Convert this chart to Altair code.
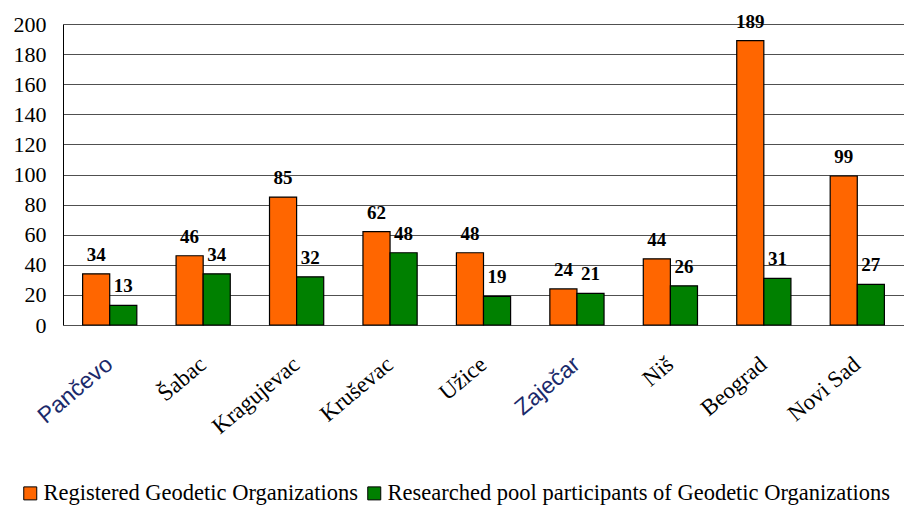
import altair as alt
import pandas as pd

cities = ["Pančevo", "Šabac", "Kragujevac", "Kruševac", "Užice", "Zaječar", "Niš", "Beograd", "Novi Sad"]
registered = [34, 46, 85, 62, 48, 24, 44, 189, 99]
researched = [13, 34, 32, 48, 19, 21, 26, 31, 27]
series = ["Registered Geodetic Organizations", "Researched pool participants of Geodetic Organizations"]
colors = ["#FF6600", "#008000"]
y_ticks = list(range(0, 201, 20))

rows = []
for c, r, s in zip(cities, registered, researched):
    rows.append({"city": c, "series": series[0], "value": r})
    rows.append({"city": c, "series": series[1], "value": s})
df = pd.DataFrame(rows)

serif = "Liberation Serif"
sans = "Liberation Sans"
special = "indexof(['Pančevo','Zaječar'], datum.value) >= 0"

x_enc = alt.X(
    "city:N",
    sort=cities,
    title=None,
    scale=alt.Scale(paddingInner=0.42, paddingOuter=0.21),
    axis=alt.Axis(
        labelAngle=-40,
        labelAlign="right",
        labelBaseline="middle",
        labelFont={"condition": {"test": special, "value": sans}, "value": serif},
        labelColor={"condition": {"test": special, "value": "#1b2a6b"}, "value": "black"},
        labelFontSize=23,
        labelPadding=36,
        ticks=False,
        domain=False,
    ),
)
y_enc = alt.Y(
    "value:Q",
    title=None,
    scale=alt.Scale(domain=[0, 200], nice=False),
    axis=alt.Axis(
        values=y_ticks,
        labelFont=serif,
        labelFontSize=22,
        labelPadding=17,
        ticks=False,
        domain=True,
        domainColor="black",
        gridColor="#505050",
        gridWidth=1,
    ),
)
color_enc = alt.Color(
    "series:N",
    sort=series,
    scale=alt.Scale(domain=series, range=colors),
    legend=alt.Legend(
        title=None,
        orient="none",
        direction="horizontal",
        legendX=-44,
        legendY=458,
        symbolType="square",
        symbolSize=169,
        symbolStrokeColor="black",
        symbolStrokeWidth=1,
        labelFont=serif,
        labelFontSize=22.5,
        labelOffset=2,
        columnPadding=5,
        labelLimit=700,
        padding=0,
    ),
)

base = alt.Chart(df).encode(
    x=x_enc,
    xOffset=alt.XOffset("series:N", sort=series),
    y=y_enc,
)

bars = base.mark_bar(stroke="black", strokeWidth=1.2).encode(color=color_enc)
labels = base.mark_text(font=serif, fontSize=19, fontWeight="bold", baseline="alphabetic", dy=-13, color="black").encode(
    text="value:Q"
)

chart = (
    alt.layer(bars, labels)
    .properties(
        width=841,
        height=301,
        autosize=alt.AutoSizeParams(type="none"),
        padding={"left": 55, "top": 16, "right": 0, "bottom": 183},
        background="white",
    )
    .configure_view(stroke=None)
)

chart.save("out.html", embed_options={"renderer": "svg", "actions": False})
